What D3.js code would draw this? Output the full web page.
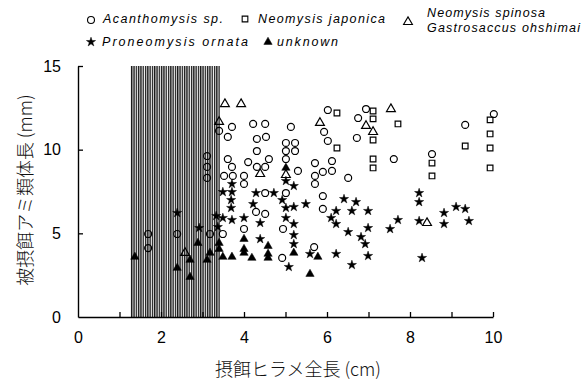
<!DOCTYPE html>
<html><head><meta charset="utf-8">
<script src="https://cdn.jsdelivr.net/npm/d3@7"></script>
<style>body{margin:0;background:#fff}svg{display:block}</style>
</head><body>
<script>
// ---- data ----
const xTicks = [0,1,2,3,4,5,6,7,8,9,10];
const xLabels = [0,2,4,6,8,10];
const yTicks = [0,5,10,15];
const shadeRange = [1.27, 3.42];

// Acanthomysis sp. (open circle)
const acanthomysis = [
  [1.69,4.96],[1.69,4.12],[2.39,4.96],[3.18,4.96],[3.49,4.96],[3.11,9.62],[3.11,8.97],[3.11,8.31],
  [3.40,11.12],[3.71,11.36],[3.61,10.76],[4.22,11.54],[4.51,11.54],[5.13,11.36],[4.31,10.64],[4.53,10.76],
  [5.01,10.40],[5.23,10.40],[4.31,9.92],[5.01,9.92],[5.23,9.92],[3.61,9.44],[4.60,9.44],[5.01,9.44],
  [4.10,9.26],[3.71,8.97],[4.31,8.97],[4.51,8.97],[5.71,9.20],[3.52,8.43],[3.73,8.43],[4.00,8.43],
  [5.30,8.73],[4.00,7.95],[4.51,7.41],[5.01,7.41],[4.29,6.28],[4.51,6.16],[4.00,5.26],[4.94,5.26],
  [4.92,3.53],[5.69,4.18],[6.02,12.37],[6.94,12.43],[6.75,11.89],[5.93,11.06],[6.02,10.52],[6.72,10.70],
  [7.61,9.44],[6.12,9.32],[6.12,8.73],[5.90,8.67],[5.71,8.43],[5.71,7.95],[6.51,8.31],[5.90,7.23],
  [5.90,6.46],[9.33,11.48],[10.02,12.13],[8.53,9.74]
];
// Neomysis japonica (open square)
const neomysisJaponica = [
  [6.24,12.19],[7.11,12.31],[7.11,11.84],[7.71,11.54],[7.11,10.58],[6.24,10.10],[7.11,9.44],[7.11,8.91],
  [9.33,10.22],[9.93,11.78],[9.93,10.94],[9.93,10.10],[9.93,8.91],[8.53,9.20],[8.53,8.43]
];
// Neomysis spinosa / Gastrosaccus ohshimai (open triangle)
const spinosaGastrosaccus = [
  [3.54,12.73],[3.93,12.73],[3.40,11.66],[4.39,8.55],[5.01,8.49],[5.83,11.60],[6.94,11.42],[7.54,12.43],
  [7.11,11.06],[8.41,5.62],[2.58,3.83]
];
// Proneomysis ornata (filled star)
const proneomysis = [
  [2.39,6.22],[2.92,5.32],[3.33,6.04],[3.37,5.38],[3.49,7.47],[3.71,7.95],[3.71,7.47],[3.69,6.99],
  [3.69,6.52],[3.49,5.92],[3.71,5.80],[4.00,5.92],[4.29,7.41],[4.72,7.41],[4.92,6.99],[4.22,6.75],
  [5.01,6.52],[5.20,6.58],[5.49,6.75],[5.01,5.92],[4.39,5.62],[5.20,5.56],[5.20,4.90],[4.39,4.66],
  [5.20,4.36],[5.59,3.77],[5.08,2.99],[5.01,8.13],[5.20,7.83],
  [6.41,7.05],[6.70,6.87],[6.22,6.34],[6.60,6.34],[6.99,6.34],[6.10,5.92],[6.22,5.56],[6.51,5.08],
  [6.99,5.32],[6.82,4.78],[6.92,4.36],[7.52,5.26],[7.71,5.80],[6.22,3.77],[6.99,3.65],[6.60,3.11],
  [8.22,7.41],[8.22,6.87],[8.82,6.22],[9.11,6.58],[9.33,6.46],[9.42,5.74],[8.82,5.56],[8.22,5.74],[8.29,3.53]
];
// unknown (filled triangle)
const unknown = [
  [1.37,3.59],[2.39,2.93],[2.70,3.41],[2.70,2.39],[2.89,4.42],[3.11,3.41],[3.18,3.83],[3.40,4.42],
  [3.40,4.06],[3.49,3.59],[3.71,3.59],[4.19,3.53],[4.00,4.66],[4.00,4.06],[4.00,3.83],[4.58,4.24],
  [4.58,3.77],[4.58,3.53],[5.20,3.83],[5.01,8.91],[5.78,3.59],[5.59,2.57]
];
const legendNames = ["Acanthomysis sp.","Neomysis japonica","Neomysis spinosa","Gastrosaccus ohshimai","Proneomysis ornata","unknown"];
const xTitle = "摂餌ヒラメ全長 (cm)";
const yTitle = "被摂餌アミ類体長 (mm)";

// ---- drawing ----
const W = 582, H = 383;
const svg = d3.select("body").append("svg").attr("width", W).attr("height", H);
const x = d3.scaleLinear().domain([0,10]).range([78,493]);
const y = d3.scaleLinear().domain([0,15]).range([317,66]);

// hatch pattern
const defs = svg.append("defs");
const pat = defs.append("pattern").attr("id","hatch").attr("patternUnits","userSpaceOnUse")
  .attr("width",2.3).attr("height",10);
pat.append("rect").attr("width",2.3).attr("height",10).attr("fill","#efefef");
pat.append("rect").attr("x",0).attr("width",1.3).attr("height",10).attr("fill","#1a1a1a");

svg.append("rect")
  .attr("x", x(shadeRange[0])).attr("y", y(15))
  .attr("width", x(shadeRange[1]) - x(shadeRange[0]))
  .attr("height", y(0) - y(15))
  .attr("fill","url(#hatch)");

// axes
const fontAxis = "'Liberation Sans', Arial, sans-serif";
const xAxis = d3.axisBottom(x).tickValues(xTicks).tickSizeInner(-5).tickSizeOuter(0).tickPadding(15)
  .tickFormat(d => xLabels.includes(d) ? d : "");
const gx = svg.append("g").attr("transform",`translate(0,${y(0)})`).call(xAxis);
const yAxis = d3.axisLeft(y).tickValues(yTicks).tickSizeInner(-5).tickSizeOuter(0).tickPadding(17);
const gy = svg.append("g").attr("transform",`translate(${x(0)},0)`).call(yAxis);
[gx,gy].forEach(g => {
  g.select(".domain").attr("stroke","#000").attr("stroke-width",1.4);
  g.selectAll(".tick line").attr("stroke","#000").attr("stroke-width",1.3);
  g.selectAll(".tick text").attr("font-family",fontAxis).attr("font-size",16).attr("fill","#000");
});
gy.selectAll(".tick").filter(d => d === 0).select("line").remove();
gx.selectAll(".tick").filter(d => d === 0).select("line").remove();

// symbols
const sym = (type, size) => d3.symbol().type(type).size(size)();
const layers = [
  {data: acanthomysis, path: sym(d3.symbolCircle, 38), fill: "none"},
  {data: neomysisJaponica, path: sym(d3.symbolSquare, 32), fill: "none"},
  {data: spinosaGastrosaccus, path: sym(d3.symbolTriangle, 34), fill: "none"},
  {data: proneomysis, path: sym(d3.symbolStar, 26), fill: "#000"},
  {data: unknown, path: sym(d3.symbolTriangle, 30), fill: "#000"}
];
layers.forEach(L => {
  svg.append("g").selectAll("path").data(L.data).join("path")
    .attr("d", L.path)
    .attr("transform", d => `translate(${x(d[0])},${y(d[1])})`)
    .attr("fill", L.fill)
    .attr("stroke", "#000")
    .attr("stroke-width", L.fill === "none" ? 1.2 : 0.5);
});

// legend
const lg = svg.append("g");
const legendFont = "'Liberation Sans', Arial, sans-serif";
const legendSymbols = [
  {path: sym(d3.symbolCircle, 38), fill: "none", cx: 91, cy: 20},
  {path: sym(d3.symbolSquare, 32), fill: "none", cx: 245, cy: 19},
  {path: sym(d3.symbolTriangle, 34), fill: "none", cx: 408, cy: 22},
  {path: sym(d3.symbolStar, 26), fill: "#000", cx: 91, cy: 42},
  {path: sym(d3.symbolTriangle, 30), fill: "#000", cx: 268, cy: 42}
];
legendSymbols.forEach(s => {
  lg.append("path").attr("d", s.path).attr("transform",`translate(${s.cx},${s.cy})`)
    .attr("fill", s.fill).attr("stroke","#000").attr("stroke-width", s.fill==="none"?1.1:0.5);
});
const legendTexts = [
  {t: legendNames[0], x: 103, y: 23, w: 120},
  {t: legendNames[1], x: 258, y: 23, w: 127},
  {t: legendNames[2], x: 427, y: 17, w: 118},
  {t: legendNames[3], x: 427, y: 32, w: 153},
  {t: legendNames[4], x: 102, y: 46, w: 146},
  {t: legendNames[5], x: 277, y: 46, w: 61}
];
lg.selectAll("text").data(legendTexts).join("text")
  .attr("x", d => d.x).attr("y", d => d.y)
  .attr("textLength", d => d.w).attr("lengthAdjust","spacing")
  .attr("font-family", legendFont).attr("font-style","italic").attr("font-size",12.5)
  .attr("fill","#000").text(d => d.t);

// axis titles
const cjk = "'Noto Sans CJK JP', sans-serif";
svg.append("text").attr("x", 298).attr("y", 376).attr("text-anchor","middle")
  .attr("font-family", cjk).attr("font-weight", 300).attr("font-size", 18).attr("fill","#111")
  .text(xTitle);
svg.append("text").attr("transform","translate(32,190) rotate(-90)").attr("text-anchor","middle")
  .attr("font-family", cjk).attr("font-weight", 300).attr("font-size", 18).attr("fill","#111")
  .text(yTitle);
</script>
</body></html>
